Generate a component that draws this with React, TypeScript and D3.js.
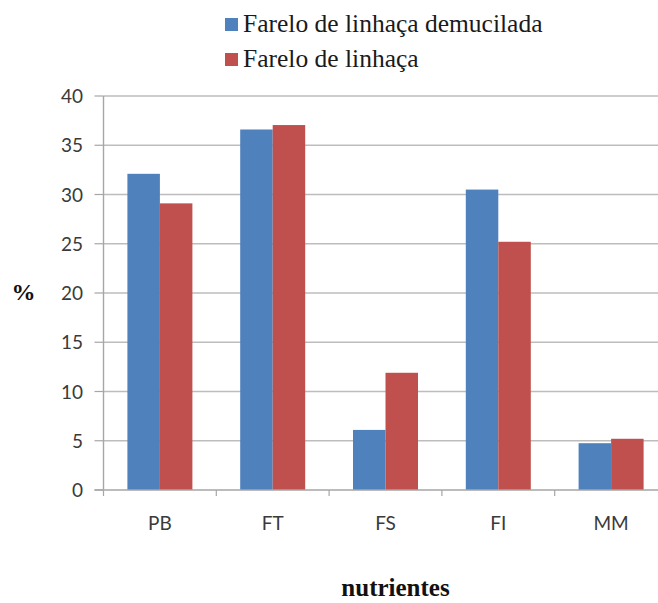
import React from "react";
import * as d3 from "d3";

const categories = ["PB", "FT", "FS", "FI", "MM"];
const seriesNames = ["Farelo de linhaça demucilada", "Farelo de linhaça"];
const demucilada = [32.1, 36.6, 6.1, 30.5, 4.75];
const linhaca = [29.1, 37.05, 11.9, 25.2, 5.2];
const yTicks = [0, 5, 10, 15, 20, 25, 30, 35, 40];
const colors = ["#4F81BD", "#C0504D"];

export default function App() {
  const W = 658, H = 603;
  const left = 103.5, band = 112.8, top = 96, bottom = 490;
  const right = left + band * categories.length;
  const x = d3.scaleBand<string>().domain(categories).range([left, right]).paddingInner(0).paddingOuter(0);
  const y = d3.scaleLinear().domain([0, 40]).range([bottom, top]);
  const groupW = 65;
  const inner = d3.scaleBand<number>().domain([0, 1]).range([0, groupW]);
  const series = [demucilada, linhaca];
  const sans = "Lato, 'Open Sans', sans-serif";
  const serif = "'Liberation Serif', 'Times New Roman', serif";
  const boundaries = categories.map((c) => x(c)!);

  return (
    <svg width={W} height={H} style={{ position: "absolute", left: 0, top: 0, background: "#fff" }}>
      <rect width={W} height={H} fill="#fff" />
      {yTicks.map((t) => (
        <g key={t}>
          {t > 0 && <line x1={left} x2={W} y1={y(t)} y2={y(t)} stroke="#bdbdbd" strokeWidth={1.4} />}
          <line x1={left - 9} x2={left} y1={y(t)} y2={y(t)} stroke="#a6a6a6" strokeWidth={1.2} />
          <text x={83} y={y(t)} dy="0.37em" textAnchor="end" fontFamily={sans} fontSize={19} fill="#3a3a3a">{t}</text>
        </g>
      ))}
      {series.map((vals, si) =>
        categories.map((c, i) => {
          const bx = x(c)! + (x.bandwidth() - groupW) / 2 + inner(si)!;
          return (
            <rect key={si + c} x={bx} y={y(vals[i])} width={inner.bandwidth()} height={bottom - y(vals[i])} fill={colors[si]} />
          );
        })
      )}
      <line x1={left} x2={left} y1={top} y2={bottom} stroke="#a6a6a6" strokeWidth={1.4} />
      <line x1={left - 9} x2={W} y1={bottom} y2={bottom} stroke="#a6a6a6" strokeWidth={1.4} />
      {boundaries.map((b, i) => (
        <line key={i} x1={b} x2={b} y1={bottom} y2={bottom + 6} stroke="#a6a6a6" strokeWidth={1.2} />
      ))}
      {categories.map((c) => (
        <text key={c} x={x(c)! + x.bandwidth() / 2} y={530} textAnchor="middle" fontFamily={sans} fontSize={19} fill="#3a3a3a">{c}</text>
      ))}
      <text x={23.5} y={300} textAnchor="middle" fontFamily={serif} fontWeight="bold" fontSize={24} fill="#111">%</text>
      <text x={395.5} y={596} textAnchor="middle" fontFamily={serif} fontWeight="bold" fontSize={25} fill="#111">nutrientes</text>
      {seriesNames.map((n, i) => (
        <g key={n} transform={`translate(225, ${18 + i * 35})`}>
          <rect x={0} y={0} width={13} height={13} fill={colors[i]} />
          <text x={18} y={14} fontFamily={serif} fontSize={25.5} fill="#1a1a1a">{n}</text>
        </g>
      ))}
    </svg>
  );
}
